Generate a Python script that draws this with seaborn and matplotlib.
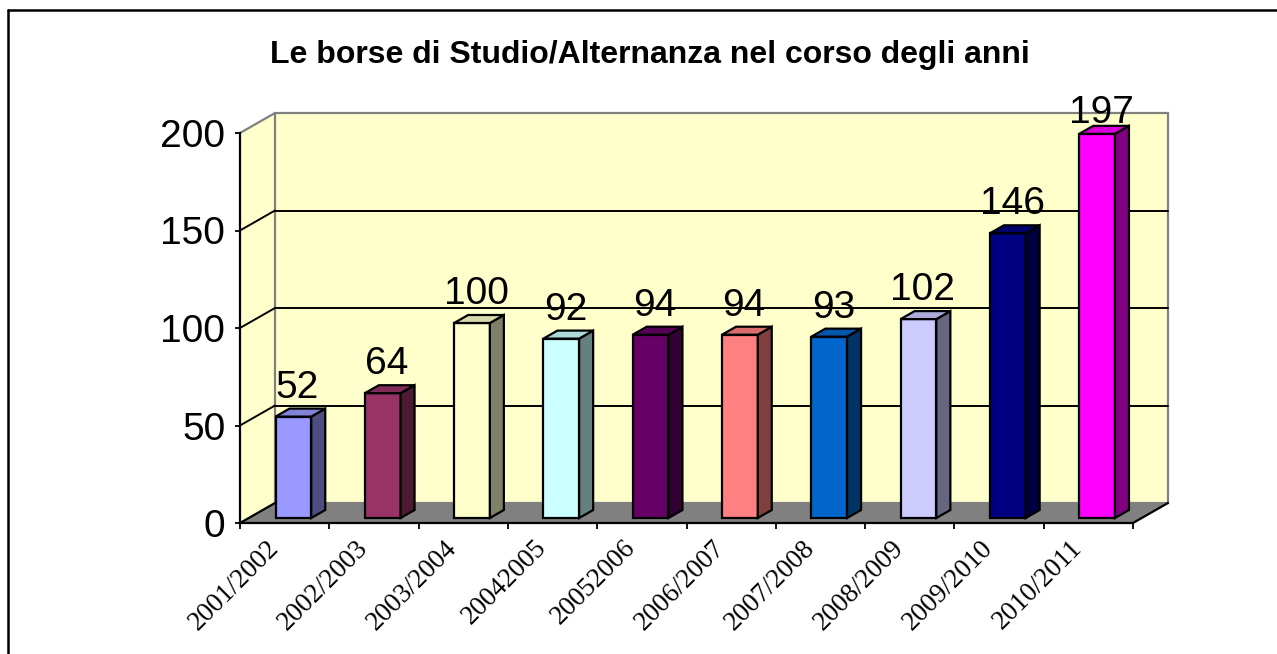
import numpy as np
import pandas as pd
import matplotlib
matplotlib.use("Agg")
import matplotlib.pyplot as plt
import matplotlib.transforms as mtransforms
import matplotlib.colors as mcolors
from matplotlib.patches import Polygon, Rectangle
from matplotlib.lines import Line2D
import seaborn as sns

TITLE = "Le borse di Studio/Alternanza nel corso degli anni"
YEARS = ["2001/2002", "2002/2003", "2003/2004", "20042005", "20052006",
         "2006/2007", "2007/2008", "2008/2009", "2009/2010", "2010/2011"]
VALUES = [52, 64, 100, 92, 94, 94, 93, 102, 146, 197]
COLORS = ["#9999FF", "#993366", "#FFFFCC", "#CCFFFF", "#660066",
          "#FF8080", "#0066CC", "#CCCCFF", "#000080", "#FF00FF"]
YTICKS = [0, 50, 100, 150, 200]

sns.set_style("white")
plt.rcParams["font.family"] = ["Liberation Sans", "DejaVu Sans"]
plt.rcParams.update({"text.color": "black", "axes.labelcolor": "black",
                     "xtick.color": "black", "ytick.color": "black"})

W, H, DPI = 1277, 654, 100
WALL = np.array([35, 20])        # depth of the 3d box, pixels
BAR_SHIFT = np.array([8.75, 5])  # bar front plane behind the axis plane
BAR_DEPTH = np.array([14, 8])    # bar thickness
WALL_COL, FLOOR_COL, EDGE_GREY = "#FFFFCC", "#808080", "#808080"

fig = plt.figure(figsize=(W / DPI, H / DPI), dpi=DPI)
ax = fig.add_axes([240 / W, 1 - 523 / H, 893 / W, 390 / H])
ax.patch.set_alpha(0)

df = pd.DataFrame({"anno": YEARS, "borse": VALUES})
sns.barplot(data=df, x="anno", y="borse", hue="anno", palette=COLORS, legend=False,
            width=0.4, edgecolor="black", linewidth=1.6, saturation=1, ax=ax, zorder=5)
bars = list(ax.patches)
ax.set_xlim(-0.5, len(YEARS) - 0.5)
ax.set_ylim(YTICKS[0], YTICKS[-1])
ax.set_xlabel(""); ax.set_ylabel("")

ident = mtransforms.IdentityTransform()
to_px = ax.transData.transform


def px(dx, dy):
    return mtransforms.ScaledTranslation(dx / DPI, dy / DPI, fig.dpi_scale_trans)


def poly(pts, fc, ec="none", lw=1.5, z=1):
    ax.add_artist(Polygon(pts, closed=True, transform=ident, facecolor=fc,
                          edgecolor=ec, lw=lw, zorder=z, clip_on=False))


def line(p, q, c="black", lw=1.4, z=1):
    ax.add_artist(Line2D([p[0], q[0]], [p[1], q[1]], transform=ident, color=c,
                         lw=lw, zorder=z, clip_on=False))


# --- walls and floor ---
(x0, y0), (x1, ytop) = to_px([(-0.5, YTICKS[0]), (len(YEARS) - 0.5, YTICKS[-1])])
dx, dy = WALL
poly([(x0, y0), (x0, ytop), (x0 + dx, ytop + dy), (x0 + dx, y0 + dy)], WALL_COL, z=0.1)
ax.add_artist(Rectangle((x0 + dx, y0 + dy), x1 - x0, ytop - y0, transform=ident,
                        facecolor=WALL_COL, edgecolor=EDGE_GREY, lw=1.6, zorder=0.2,
                        clip_on=False))
for v in YTICKS[1:-1]:
    yv = to_px((0, v))[1]
    line((x0 + dx, yv + dy), (x1 + dx, yv + dy), z=0.5)
    line((x0, yv), (x0 + dx, yv + dy), z=0.5)
line((x0, ytop), (x0 + dx, ytop + dy), c=EDGE_GREY, lw=1.6, z=0.5)
poly([(x0, y0), (x1, y0), (x1 + dx, y0 + dy), (x0 + dx, y0 + dy)], FLOOR_COL, z=1)
line((x0, y0), (x0 + dx, y0 + dy), lw=1.6, z=1.2)
line((x1, y0), (x1 + dx, y0 + dy), lw=1.6, z=1.2)

# --- 3d bars: front from seaborn, side/top faces from the same patches ---
for bar, col in zip(bars, COLORS):
    bar.set_transform(ax.transData + px(*BAR_SHIFT))
    bar.set_clip_on(False)
    x, w, h = bar.get_x(), bar.get_width(), bar.get_height()
    (xl, yb), (xr, yt) = to_px([(x, 0), (x + w, h)]) + BAR_SHIFT
    bdx, bdy = BAR_DEPTH
    rgb = np.array(mcolors.to_rgb(col))
    poly([(xr, yb), (xr + bdx, yb + bdy), (xr + bdx, yt + bdy), (xr, yt)],
         rgb * 0.5, ec="black", lw=1.6, z=5)
    poly([(xl, yt), (xr, yt), (xr + bdx, yt + bdy), (xl + bdx, yt + bdy)],
         rgb * 0.85, ec="black", lw=1.6, z=5)

# --- value labels ---
for i, v in enumerate(VALUES):
    yv = to_px((i, v))[1]
    off = min(24, ytop + 10 - yv)
    ax.annotate(str(v), xy=(i, v), xytext=(13, off), textcoords="offset pixels",
                ha="center", va="baseline", fontsize=28, color="black", zorder=6,
                annotation_clip=False)

# --- axes ---
for s in ["top", "right"]:
    ax.spines[s].set_visible(False)
for s in ["left", "bottom"]:
    ax.spines[s].set_color("black")
    ax.spines[s].set_linewidth(1.6)

ax.set_yticks(YTICKS)
ax.tick_params(axis="y", left=True, direction="out", length=3.6, width=1.3,
               pad=7, labelsize=28, color="black", labelcolor="black")
ax.set_xticks(range(len(YEARS)))
ax.set_xticklabels(YEARS, rotation=45, ha="right", va="top", fontsize=19.5,
                   family=["Liberation Serif", "DejaVu Serif"])
ax.tick_params(axis="x", which="major", bottom=True, length=0, pad=8.8,
               labelcolor="black")
ax.set_xticks(np.arange(-0.5, len(YEARS), 1), minor=True)
ax.tick_params(axis="x", which="minor", bottom=True, direction="out",
               length=4.3, width=1.3, color="black")
for lbl in ax.get_xticklabels():
    lbl.set_transform(lbl.get_transform() + px(-1, 0))

fig.text(650 / W, 1 - 55 / H, TITLE, ha="center", va="center", color="black",
         fontsize=23, fontweight="bold")

# chart border (left and top visible)
fig.add_artist(Line2D([8 / W, 8 / W], [0, 1 - 10 / H], transform=fig.transFigure,
                      color="black", lw=1.8))
fig.add_artist(Line2D([8 / W, 1], [1 - 10 / H, 1 - 10 / H], transform=fig.transFigure,
                      color="black", lw=1.8))

fig.savefig("out.png", dpi=DPI)
